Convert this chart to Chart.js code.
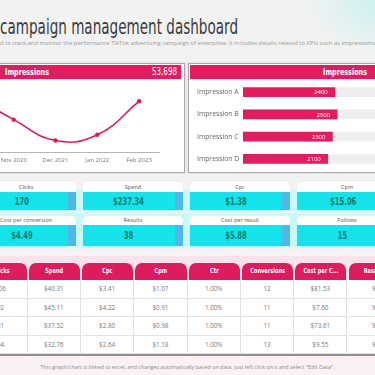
<!DOCTYPE html>
<html><head><meta charset="utf-8">
<script src="https://cdn.jsdelivr.net/npm/chart.js@4.4.0/dist/chart.umd.min.js"></script>
<style>
html,body{margin:0;padding:0;width:375px;height:375px;overflow:hidden;}
body{position:relative;background:#f2f2f2;font-family:"Open Sans","Liberation Sans",sans-serif;}
.abs{position:absolute;}
.cond{font-family:"Liberation Sans Narrow","DejaVu Sans Condensed",sans-serif;}
.fit{display:inline-block;white-space:nowrap;transform-origin:left center;}
.panel{position:absolute;background:#fff;border:1px solid #a9a9a9;box-shadow:0 0 2px rgba(0,0,0,0.15);}
.phead{position:absolute;background:#e31b61;height:14px;}
.card{position:absolute;width:100px;}
.card .lab{height:10px;background:#fff;border-radius:5px 5px 0 0;font-size:5.6px;color:#555;text-align:center;line-height:10px;}
.card .val{background:#17e1ea;border-right:8px solid #52b6e6;text-align:center;color:#0b7f6c;font-family:"DejaVu Sans Condensed",sans-serif;font-weight:bold;font-size:10.5px;}
.card .val span{display:inline-block;transform:scaleX(0.72);}
.th{position:absolute;top:263px;height:17px;background:#dc1c5c;border-radius:7px 7px 0 0;color:#fff;text-align:center;line-height:17px;font-family:"DejaVu Sans Condensed",sans-serif;font-weight:bold;font-size:7px;}
.th span{display:inline-block;transform:scaleX(0.8);}
.td{position:absolute;height:18.5px;line-height:18.5px;text-align:center;color:#777;font-size:6.3px;border-right:1px solid #e2e2e2;border-bottom:1px solid #e2e2e2;box-sizing:border-box;background:#fff;}
canvas{display:block;}
</style></head>
<body>
<script>
// ---------- data ----------
const lineLabels = ['Oct 2019', 'Nov 2020', 'Dec 2021', 'Jan 2022', 'Feb 2023'];
const lineValues = [18000, 10300, 3800, 5598, 16000];
const impressionTotal = '53,698';
const barLabels = ['Impression A', 'Impression B', 'Impression C', 'Impression D'];
const barValues = [2400, 2500, 2300, 2100];
const barTrack = [5000, 5000, 5000, 5000];
const kpiRow1Labels = ['Clicks', 'Spend', 'Cpc', 'Cpm'];
const kpiRow1Values = ['170', '$237.34', '$1.38', '$15.06'];
const kpiRow2Labels = ['Cost per conversion', 'Results', 'Cost per result', 'Follows'];
const kpiRow2Values = ['$4.49', '38', '$5.88', '15'];
const tableHeaders = ['Clicks', 'Spend', 'Cpc', 'Cpm', 'Ctr', 'Conversions', 'Cost per C...', 'Results'];
const colClicks = ['106', '92', '81', '94'];
const colSpend = ['$40.31', '$45.11', '$37.52', '$32.76'];
const colCpc = ['$3.41', '$4.22', '$2.80', '$2.64'];
const colCpm = ['$1.07', '$0.91', '$0.98', '$1.18'];
const colCtr = ['1.00%', '1.00%', '1.00%', '1.00%'];
const colConversions = ['12', '11', '11', '13'];
const colCostPerConv = ['$81.53', '$7.60', '$73.61', '$9.55'];
const colResults = ['9', '9', '9', '9'];
</script>

<!-- decorative top-right glow -->
<div class="abs" style="left:300px;top:-60px;width:160px;height:120px;background:radial-gradient(ellipse at center,rgba(200,240,240,0.9) 0%,rgba(242,242,242,0) 65%);"></div>
<!-- lower pinkish background -->
<div class="abs" style="left:0;top:252px;width:375px;height:123px;background:#f9f1f4;"></div>

<!-- title -->
<div class="abs cond" style="left:0;top:14px;height:26px;line-height:26px;font-size:22px;color:#3b3b3b;"><span class="fit" data-w="238">campaign management dashboard</span></div>
<div class="abs" style="left:0;top:39px;height:8px;line-height:8px;font-size:5.4px;color:#9a9a9a;"><span class="fit" data-w="375">d to track and monitor the performance TikTok advertising campaign of enterprise. It includes details related to KPIs such as impressions</span></div>

<!-- left panel -->
<div class="panel" style="left:-6px;top:63px;width:189px;height:108px;"></div>
<div class="phead" style="left:0;top:65px;width:181px;"></div>
<div class="abs" style="left:5px;top:65px;height:14px;line-height:14px;color:#fff;font-family:'DejaVu Sans Condensed',sans-serif;font-weight:bold;font-size:8.5px;"><span class="fit" data-w="44">Impressions</span></div>
<div class="abs cond" style="left:152px;top:65px;height:14px;line-height:14px;color:#fff;font-size:11px;"><span class="fit" data-w="25" id="totalTxt"></span></div>
<div class="abs" style="left:-49px;top:82px;width:209px;height:86px;"><canvas id="lineChart" width="209" height="86"></canvas></div>

<!-- right panel -->
<div class="panel" style="left:188px;top:63px;width:200px;height:108px;"></div>
<div class="phead" style="left:190px;top:65px;width:190px;"></div>
<div class="abs" style="left:323px;top:65px;height:14px;line-height:14px;color:#fff;font-family:'DejaVu Sans Condensed',sans-serif;font-weight:bold;font-size:8.5px;"><span class="fit" data-w="44">Impressions</span></div>
<div class="abs" style="left:197px;top:81px;width:199px;height:89px;"><canvas id="barChart" width="199" height="89"></canvas></div>

<div id="cards"></div>
<div id="table"></div>

<div class="abs" style="left:0;top:363px;width:375px;text-align:center;font-size:5.4px;color:#8a8a8a;">This graph/chart is linked to excel,  and changes automatically based on data. Just left click on it and select "Edit Data".</div>

<script>
// ---------- KPI cards ----------
const cardsEl = document.getElementById('cards');
let html = '';
html += '<div class="abs" style="left:0;top:190px;width:375px;height:21px;background:#c8f8f8;"></div>';
html += '<div class="abs" style="left:0;top:213px;width:375px;height:34px;background:#c8f8f8;"></div>';
function addRow(labels, values, top, lh, vh) {
  labels.forEach((l, i) => {
    const left = -24 + i * 107;
    html += `<div class="card" style="left:${left}px;top:${top}px"><div class="lab" style="height:${lh}px;line-height:${lh}px">${l}</div><div class="val" style="height:${vh}px;line-height:${vh}px"><span>${values[i]}</span></div></div>`;
  });
}
addRow(kpiRow1Labels, kpiRow1Values, 182, 10, 18);
addRow(kpiRow2Labels, kpiRow2Values, 216, 9, 21);
cardsEl.innerHTML = html;

// ---------- table ----------
const cols = [colClicks, colSpend, colCpc, colCpm, colCtr, colConversions, colCostPerConv, colResults];
const colW = 53.3, tLeft = -25.6;
let t = '';
t += '<div class="abs" style="left:0;top:256px;width:375px;height:24px;background:#fbe3eb;"></div>';
t += '<div class="abs" style="left:0;top:280px;width:375px;height:74px;background:#fff;border-bottom:2px solid #8f8f8f;"></div>';
tableHeaders.forEach((h, i) => {
  t += `<div class="th" style="left:${tLeft + i * colW + 1}px;width:${colW - 2}px"><span>${h}</span></div>`;
});
cols.forEach((c, i) => {
  c.forEach((v, r) => {
    t += `<div class="td" style="left:${tLeft + i * colW}px;top:${280 + r * 18.5}px;width:${colW}px">${v}</div>`;
  });
});
document.getElementById('table').innerHTML = t;
document.getElementById('totalTxt').textContent = impressionTotal;

document.querySelectorAll('.fit').forEach(el => {
  const w = el.getBoundingClientRect().width;
  el.style.transform = `scaleX(${(+el.dataset.w) / w})`;
});

// ---------- charts ----------
const pink = '#e31b61';
new Chart(document.getElementById('lineChart'), {
  type: 'line',
  data: { labels: lineLabels, datasets: [{
    data: lineValues, borderColor: '#d81b60', backgroundColor: '#d81b60',
    borderWidth: 1.6, tension: 0.45, pointRadius: 2.2, pointBorderWidth: 0, fill: false, clip: false
  }]},
  options: {
    responsive: false, animation: false, devicePixelRatio: 1,
    layout: { padding: 0, autoPadding: false },
    plugins: { legend: { display: false }, tooltip: { enabled: false } },
    scales: {
      x: { offset: true, grid: { display: false, drawTicks: false },
           border: { display: true, color: '#b5b5b5', width: 1 },
           ticks: { padding: 4, color: '#777', font: { size: 6, family: 'Open Sans' }, maxRotation: 0, autoSkip: false } },
      y: { display: false, min: 0, max: 22000 }
    }
  }
});

const barLabelPlugin = {
  id: 'barLabels',
  afterDatasetsDraw(chart) {
    const ctx = chart.ctx;
    const meta = chart.getDatasetMeta(0);
    ctx.save();
    ctx.fillStyle = '#fff';
    ctx.font = '6px "Open Sans"';
    ctx.textAlign = 'right';
    ctx.textBaseline = 'middle';
    meta.data.forEach((bar, i) => {
      ctx.fillText(String(barValues[i]), bar.x - 7, bar.y + 0.5);
    });
    ctx.restore();
  }
};
new Chart(document.getElementById('barChart'), {
  type: 'bar',
  data: { labels: barLabels, datasets: [
    { data: barValues, backgroundColor: pink, base: -1500, barThickness: 9, grouped: false, borderWidth: 0 },
    { data: barTrack, backgroundColor: '#eeeeee', base: -1500, barThickness: 9, grouped: false, borderWidth: 0 }
  ]},
  options: {
    indexAxis: 'y', responsive: false, animation: false, devicePixelRatio: 1,
    layout: { padding: 0, autoPadding: false },
    plugins: { legend: { display: false }, tooltip: { enabled: false } },
    scales: {
      x: { display: false, min: -1500, max: 5000 },
      y: { grid: { display: false, drawTicks: false }, border: { display: false },
           afterFit(s) { s.width = 46; s.paddingTop = 0; s.paddingBottom = 0; },
           ticks: { crossAlign: 'far', padding: 0, color: '#666', font: { size: 6.8, family: 'Open Sans' } } }
    }
  },
  plugins: [barLabelPlugin]
});
</script>
</body></html>
